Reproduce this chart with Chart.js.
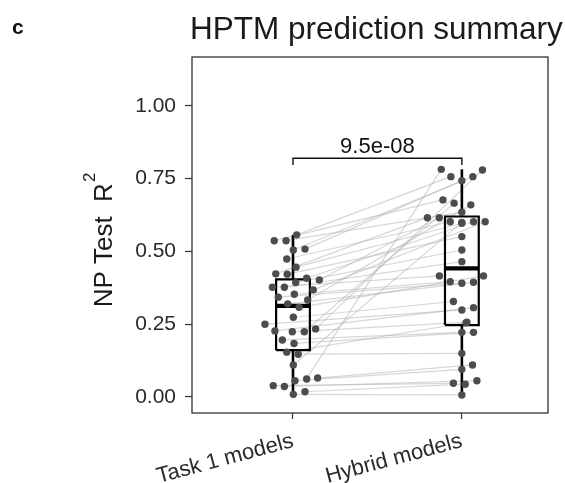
<!DOCTYPE html>
<html><head><meta charset="utf-8">
<script src="https://cdn.jsdelivr.net/npm/chart.js@4"></script>
<style>html,body{margin:0;padding:0;background:#fff}#wrap{width:565px;height:483px}</style>
</head><body><div id="wrap"><canvas id="c" width="565" height="483"></canvas></div>
<script>
const categories = ["Task 1 models", "Hybrid models"];
const yTicks = [0, 0.25, 0.5, 0.75, 1.0];

// paired values: task1R2[i] and hybridR2[i] belong to the same model
const task1R2 = [0.557,0.537,0.537,0.505,0.508,0.474,0.446,0.423,0.422,0.408,0.402,0.393,0.377,0.377,0.368,0.353,0.343,0.333,0.320,0.308,0.274,0.250,0.234,0.227,0.224,0.224,0.196,0.184,0.154,0.147,0.110,0.065,0.062,0.056,0.039,0.036,0.009,0.018];
const task1Jitter = [0.022,-0.111,-0.041,0.002,0.071,-0.037,0.018,-0.102,-0.034,0.081,0.156,0.016,-0.122,-0.051,0.120,0.008,-0.087,0.087,-0.031,0.036,0.002,-0.166,0.134,-0.107,-0.004,0.067,-0.063,0.006,-0.037,0.031,0.002,0.146,0.081,0.012,-0.117,-0.051,0.002,0.071];
const hybridR2 = [0.757,0.677,0.635,0.757,0.743,0.602,0.597,0.616,0.551,0.602,0.616,0.505,0.416,0.465,0.602,0.396,0.391,0.660,0.394,0.416,0.328,0.299,0.780,0.307,0.257,0.666,0.222,0.222,0.255,0.150,0.600,0.110,0.782,0.095,0.047,0.056,0.007,0.044];
const hybridJitter = [-0.065,-0.112,0,0.065,0,-0.069,0,-0.204,0,0.069,-0.134,0,-0.133,0,0.138,-0.069,0,0.053,0.069,0.128,-0.050,0,0.122,0.069,0.030,-0.046,0,0.069,0.025,0,0,0.063,-0.122,0,-0.050,0.089,0,0.020];

// box statistics per category
const boxQ1 = [0.161, 0.247];
const boxMedian = [0.313, 0.442];
const boxQ3 = [0.404, 0.620];
const whiskerLow = [0.009, 0.007];
const whiskerHigh = [0.557, 0.782];

const pValueLabel = "9.5e-08";
const titleText = "HPTM prediction summary";
const panelTag = "c";

const FONT = '"Liberation Sans", Arial, Helvetica, sans-serif';
const BOX_HALF = 0.1;
const BRACKET_TOP = 0.82, BRACKET_DROP = 0.797;

const datasets = [];
// points (on top)
datasets.push({
  label: 'pts', order: 0,
  data: task1R2.map((v,i)=>({x: 1 + task1Jitter[i], y: v}))
        .concat(hybridR2.map((v,i)=>({x: 2 + hybridJitter[i], y: v}))),
  pointRadius: 3.7, pointBackgroundColor: '#4d4d4d', pointBorderWidth: 0, showLine: false
});
// boxes, whiskers, medians
categories.forEach((c, k) => {
  const cx = k + 1;
  const common = {order: 1, showLine: true, pointRadius: 0, fill: false, tension: 0, borderColor: '#000'};
  datasets.push(Object.assign({}, common, {label: 'wu'+k, borderWidth: 2.6,
    data: [{x: cx, y: boxQ3[k]}, {x: cx, y: whiskerHigh[k]}]}));
  datasets.push(Object.assign({}, common, {label: 'wl'+k, borderWidth: 2.6,
    data: [{x: cx, y: boxQ1[k]}, {x: cx, y: whiskerLow[k]}]}));
  datasets.push(Object.assign({}, common, {label: 'box'+k, borderWidth: 2.2, borderJoinStyle: 'miter',
    data: [{x: cx-BOX_HALF, y: boxQ1[k]}, {x: cx+BOX_HALF, y: boxQ1[k]}, {x: cx+BOX_HALF, y: boxQ3[k]},
           {x: cx-BOX_HALF, y: boxQ3[k]}, {x: cx-BOX_HALF, y: boxQ1[k]}]}));
  datasets.push(Object.assign({}, common, {label: 'med'+k, borderWidth: 4.2,
    data: [{x: cx-BOX_HALF, y: boxMedian[k]}, {x: cx+BOX_HALF, y: boxMedian[k]}]}));
});
// significance bracket
datasets.push({label: 'bracket', order: 1, showLine: true, pointRadius: 0, fill: false, tension: 0,
  borderColor: '#111', borderWidth: 1.4,
  data: [{x:1, y:BRACKET_DROP}, {x:1, y:BRACKET_TOP}, {x:2, y:BRACKET_TOP}, {x:2, y:BRACKET_DROP}]});
// pair lines (bottom)
task1R2.forEach((v, i) => {
  datasets.push({label: 'pair'+i, order: 2, showLine: true, pointRadius: 0, fill: false, tension: 0,
    borderColor: 'rgba(175,175,175,0.5)', borderWidth: 1.2,
    data: [{x: 1 + task1Jitter[i], y: v}, {x: 2 + hybridJitter[i], y: hybridR2[i]}]});
});

const deco = {
  id: 'deco',
  afterDatasetsDraw(chart) {
    const {ctx, chartArea: a, scales: {x, y}} = chart;
    ctx.save();
    ctx.strokeStyle = '#333'; ctx.lineWidth = 1.3;
    ctx.strokeRect(a.left, a.top, a.right - a.left, a.bottom - a.top);
    ctx.fillStyle = '#111';
    ctx.font = '22px ' + FONT;
    ctx.textAlign = 'center'; ctx.textBaseline = 'alphabetic';
    ctx.fillText(pValueLabel, x.getPixelForValue(1.5), y.getPixelForValue(BRACKET_TOP) - 5);
    ctx.restore();
  },
  afterDraw(chart) {
    const {ctx, chartArea: a} = chart;
    ctx.save();
    ctx.fillStyle = '#1a1a1a';
    ctx.textBaseline = 'alphabetic'; ctx.textAlign = 'left';
    ctx.font = '31.5px ' + FONT;
    ctx.fillText(titleText, a.left - 2, 39);
    ctx.fillStyle = '#111';
    ctx.font = 'bold 21px ' + FONT;
    ctx.fillText(panelTag, 12, 34);
    // y axis title with superscript
    ctx.fillStyle = '#1a1a1a';
    const main = 'NP Test  R', sup = '2';
    ctx.font = '26px ' + FONT;
    const w1 = ctx.measureText(main).width;
    ctx.font = '17px ' + FONT;
    const w2 = ctx.measureText(sup).width;
    const total = w1 + 1 + w2;
    const cy = (a.top + a.bottom) / 2;
    ctx.translate(112, cy + total / 2 + 5);
    ctx.rotate(-Math.PI / 2);
    ctx.font = '26px ' + FONT;
    ctx.fillText(main, 0, 0);
    ctx.font = '17px ' + FONT;
    ctx.fillText(sup, w1 + 1, -17);
    ctx.restore();
  }
};

new Chart(document.getElementById('c'), {
  type: 'scatter',
  data: {datasets},
  plugins: [deco],
  options: {
    responsive: false, animation: false, devicePixelRatio: 1,
    layout: {padding: {top: 57, right: 17, bottom: 0, left: 0}},
    plugins: {legend: {display: false}, title: {display: false}, tooltip: {enabled: false}},
    scales: {
      x: {
        type: 'linear', min: 0.402, max: 2.51,
        afterBuildTicks(s) { s.ticks = categories.map((c, i) => ({value: i + 1})); },
        afterFit(s) { s.height = 70; },
        ticks: {callback: (v) => categories[v - 1], font: {size: 22, family: FONT}, color: '#2a2a2a',
                minRotation: 15, maxRotation: 15, padding: 9, autoSkip: false},
        grid: {drawOnChartArea: false, drawTicks: true, tickLength: 6, tickColor: '#333', tickWidth: 1.2},
        border: {display: false}
      },
      y: {
        type: 'linear', min: -0.055, max: 1.168,
        afterBuildTicks(s) { s.ticks = yTicks.map(v => ({value: v})); },
        afterFit(s) { s.width = 192; },
        ticks: {callback: (v) => Number(v).toFixed(2), font: {size: 21, family: FONT}, color: '#2a2a2a', padding: 9},
        grid: {drawOnChartArea: false, drawTicks: true, tickLength: 7, tickColor: '#333', tickWidth: 1.2},
        border: {display: false}
      }
    }
  }
});
</script>
</body></html>
